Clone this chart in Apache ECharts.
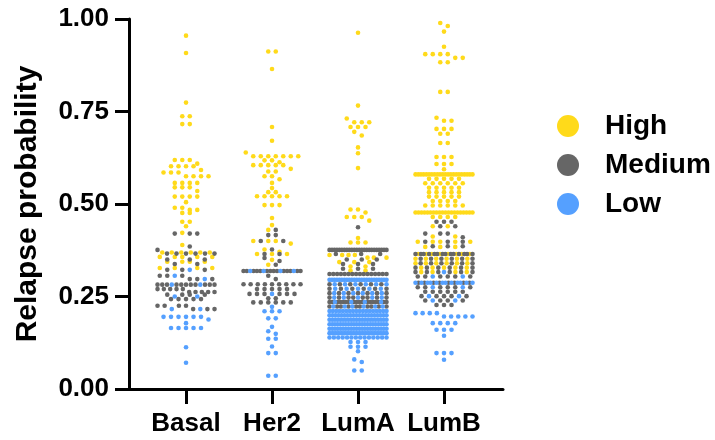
<!DOCTYPE html>
<html><head><meta charset="utf-8">
<script src="https://cdn.jsdelivr.net/npm/echarts@6/dist/echarts.min.js"></script>
<style>html,body{margin:0;padding:0;background:#fff}#c{width:715px;height:440px}</style>
</head><body><div id="c"></div>
<script>
const categories = ['Basal', 'Her2', 'LumA', 'LumB'];
const groupNames = ['High', 'Medium', 'Low'];
const yTicks = [0, 0.25, 0.5, 0.75, 1];

// Each entry: [relapse probability, number of samples at that value]
const basalHigh = [[0.955,1],[0.908,1],[0.774,1],[0.737,2],[0.716,2],[0.619,3],[0.609,1],[0.602,4],[0.592,1],[0.585,3],[0.575,4],[0.557,4],[0.545,3],[0.535,1],[0.52,4],[0.505,1],[0.49,2],[0.484,2],[0.476,2],[0.452,2],[0.44,1],[0.422,1],[0.389,1],[0.369,6],[0.357,5],[0.344,4],[0.327,4]];
const basalMedium = [[0.42,3],[0.385,1],[0.376,1],[0.366,6],[0.35,3],[0.338,2],[0.322,3],[0.306,3],[0.297,3],[0.282,11],[0.27,5],[0.262,5],[0.255,4],[0.243,5],[0.225,4],[0.216,3]];
const basalLow = [[0.322,1],[0.306,1],[0.297,1],[0.282,2],[0.25,2],[0.216,2],[0.195,6],[0.188,1],[0.178,1],[0.165,5],[0.113,1],[0.071,1]];

const her2High = [[0.912,2],[0.865,1],[0.708,1],[0.671,1],[0.639,1],[0.629,7],[0.618,2],[0.613,1],[0.605,5],[0.595,1],[0.588,2],[0.575,2],[0.567,1],[0.557,1],[0.543,1],[0.532,2],[0.521,5],[0.497,3],[0.462,1],[0.443,1],[0.43,1],[0.40,3],[0.393,1],[0.377,1],[0.371,1],[0.365,3],[0.349,1],[0.336,1]];
const her2Medium = [[0.43,1],[0.416,2],[0.40,2],[0.377,1],[0.365,2],[0.354,1],[0.346,1],[0.336,1],[0.319,14],[0.306,1],[0.297,1],[0.283,9],[0.27,5],[0.257,6],[0.245,2],[0.234,6]];
const her2Low = [[0.319,4],[0.257,1],[0.222,1],[0.21,3],[0.191,2],[0.168,1],[0.156,1],[0.149,1],[0.136,2],[0.115,1],[0.097,2],[0.036,2]];

const lumAHigh = [[0.963,1],[0.766,1],[0.731,1],[0.721,3],[0.708,3],[0.695,1],[0.685,1],[0.653,1],[0.637,1],[0.597,1],[0.485,2],[0.477,1],[0.465,3],[0.455,1],[0.408,1],[0.396,3],[0.362,4],[0.355,3],[0.343,3],[0.331,2],[0.32,2]];
const lumAMedium = [[0.437,1],[0.376,24],[0.365,3],[0.35,3],[0.338,3],[0.325,3],[0.311,16],[0.283,6],[0.271,6],[0.259,7],[0.247,8],[0.235,18],[0.223,10]];
const lumALow = [[0.295,24],[0.283,6],[0.271,5],[0.259,6],[0.247,5],[0.235,4],[0.223,6],[0.211,18],[0.199,20],[0.187,22],[0.175,22],[0.163,22],[0.151,20],[0.139,14],[0.127,3],[0.114,3],[0.102,1],[0.08,1],[0.073,1],[0.05,2]];

const lumBHigh = [[0.989,1],[0.981,1],[0.966,1],[0.925,1],[0.905,4],[0.895,2],[0.883,2],[0.803,2],[0.733,1],[0.725,2],[0.703,3],[0.69,2],[0.665,2],[0.627,3],[0.608,3],[0.594,1],[0.58,22],[0.568,5],[0.556,6],[0.544,5],[0.532,5],[0.52,5],[0.508,4],[0.496,6],[0.477,20],[0.465,4],[0.44,2],[0.412,2],[0.398,5],[0.384,3],[0.365,8],[0.352,6],[0.34,6],[0.328,5],[0.316,4]];
const lumBMedium = [[0.452,3],[0.44,2],[0.42,3],[0.41,1],[0.398,3],[0.386,3],[0.365,14],[0.352,6],[0.34,6],[0.328,6],[0.316,6],[0.304,6],[0.287,8],[0.275,6],[0.263,6],[0.251,5],[0.239,4],[0.227,3]];
const lumBLow = [[0.316,1],[0.304,2],[0.287,12],[0.275,2],[0.251,2],[0.239,2],[0.205,4],[0.196,5],[0.178,4],[0.16,3],[0.144,1],[0.097,3],[0.079,1]];

const byCategory = [
  [basalHigh, basalMedium, basalLow],
  [her2High, her2Medium, her2Low],
  [lumAHigh, lumAMedium, lumALow],
  [lumBHigh, lumBMedium, lumBLow]
];

const FONT = '"Liberation Sans", Arial, Helvetica, sans-serif';
const colors = ['#FFDA1A', '#666666', '#55A0FF'];
const xMin = -0.663, xMax = 3.686;
const gridLeft = 129, gridRight = 212, gridTop = 19, gridBottom = 51;
const pxPerUnit = (715 - gridLeft - gridRight) / (xMax - xMin);
const dotGap = 7.5, maxHalfWidth = 28.5, rowTol = 0.0105;

// beeswarm layout: group points into rows, spread each row horizontally
const seriesData = [[], [], []];
byCategory.forEach((lists, ci) => {
  const pts = [];
  lists.forEach((list, gi) => list.forEach(([v, n]) => { for (let k = 0; k < n; k++) pts.push({ v, g: gi }); }));
  pts.sort((a, b) => b.v - a.v || a.g - b.g);
  const rows = [];
  let cur = null;
  pts.forEach(p => {
    if (!cur || cur[0].v - p.v >= rowTol) { cur = [p]; rows.push(cur); } else cur.push(p);
  });
  rows.forEach(row => {
    const cnt = [0, 0, 0], seen = [0, 0, 0];
    row.forEach(p => cnt[p.g]++);
    row.forEach(p => { p.k = (seen[p.g]++ + 0.5) / cnt[p.g]; });
    row.sort((a, b) => a.k - b.k || a.g - b.g);
    const n = row.length;
    const s = n > 1 ? Math.min(dotGap, 2 * maxHalfWidth / (n - 1)) : 0;
    row.forEach((p, i) => {
      const off = (i - (n - 1) / 2) * s;
      seriesData[p.g].push([ci + off / pxPerUnit, p.v]);
    });
  });
});

const chart = echarts.init(document.getElementById('c'), null, { renderer: 'canvas' });
chart.setOption({
  animation: false,
  backgroundColor: '#fff',
  grid: { left: gridLeft, right: gridRight, top: gridTop, bottom: gridBottom, containLabel: false },
  legend: {
    orient: 'vertical', left: 557, top: 112, padding: 0,
    itemWidth: 22, itemHeight: 22, itemGap: 11, icon: 'circle',
    selectedMode: false,
    textStyle: { fontFamily: FONT, fontSize: 28, fontWeight: 'bold', color: '#000', lineHeight: 28, padding: [0, 0, 0, 21] },
    data: groupNames
  },
  xAxis: {
    type: 'value', min: xMin, max: xMax,
    axisLine: { show: true, onZero: false, lineStyle: { color: '#000', width: 3 } },
    axisTick: { show: true, customValues: [0, 1, 2, 3], length: 15, lineStyle: { color: '#000', width: 3 } },
    axisLabel: {
      customValues: [0, 1, 2, 3], formatter: v => categories[Math.round(v)],
      fontFamily: FONT, fontSize: 26, fontWeight: 'bold', color: '#000', margin: 22
    },
    splitLine: { show: false }
  },
  yAxis: {
    type: 'value', min: yTicks[0], max: yTicks[yTicks.length - 1], interval: yTicks[1] - yTicks[0],
    name: 'Relapse probability', nameLocation: 'middle', nameGap: 86, nameRotate: 90,
    nameTextStyle: { fontFamily: FONT, fontSize: 30, fontWeight: 'bold', color: '#000' },
    axisLine: { show: true, onZero: false, lineStyle: { color: '#000', width: 3 } },
    axisTick: { show: true, length: 14, lineStyle: { color: '#000', width: 3 } },
    axisLabel: { formatter: v => v.toFixed(2), fontFamily: FONT, fontSize: 26, fontWeight: 'bold', color: '#000', margin: 20 },
    splitLine: { show: false }
  },
  series: groupNames.map((name, gi) => ({
    name, type: 'scatter', symbol: 'circle', symbolSize: 4.6,
    itemStyle: { color: colors[gi], opacity: 1 },
    emphasis: { disabled: true },
    data: seriesData[gi]
  }))
});
</script></body></html>
